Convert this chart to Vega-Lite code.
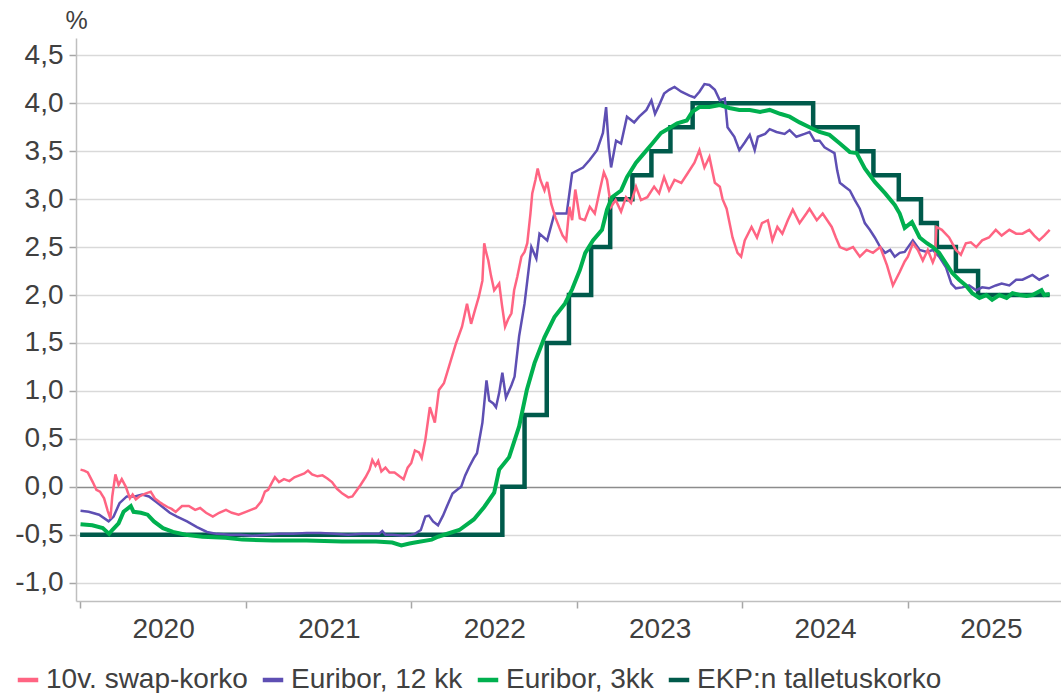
{
  "$schema": "https://vega.github.io/schema/vega-lite/v6.json",
  "width": 985,
  "height": 563,
  "autosize": {"type": "none"},
  "padding": {"left": 76, "top": 38, "right": 0, "bottom": 92},
  "background": "white",
  "datasets": {
    "rates": [
      {"d": "2020-01-02", "s": "10v. swap-korko", "v": 0.18},
      {"d": "2020-01-10", "s": "10v. swap-korko", "v": 0.17},
      {"d": "2020-01-18", "s": "10v. swap-korko", "v": 0.15},
      {"d": "2020-01-29", "s": "10v. swap-korko", "v": 0.05},
      {"d": "2020-02-06", "s": "10v. swap-korko", "v": -0.03},
      {"d": "2020-02-14", "s": "10v. swap-korko", "v": -0.05},
      {"d": "2020-02-23", "s": "10v. swap-korko", "v": -0.12},
      {"d": "2020-03-02", "s": "10v. swap-korko", "v": -0.25},
      {"d": "2020-03-08", "s": "10v. swap-korko", "v": -0.33},
      {"d": "2020-03-12", "s": "10v. swap-korko", "v": -0.1},
      {"d": "2020-03-19", "s": "10v. swap-korko", "v": 0.13},
      {"d": "2020-03-26", "s": "10v. swap-korko", "v": 0.02},
      {"d": "2020-04-02", "s": "10v. swap-korko", "v": 0.08},
      {"d": "2020-04-11", "s": "10v. swap-korko", "v": 0.0},
      {"d": "2020-04-20", "s": "10v. swap-korko", "v": -0.12},
      {"d": "2020-04-26", "s": "10v. swap-korko", "v": -0.08},
      {"d": "2020-05-03", "s": "10v. swap-korko", "v": -0.13},
      {"d": "2020-05-11", "s": "10v. swap-korko", "v": -0.1},
      {"d": "2020-05-24", "s": "10v. swap-korko", "v": -0.07},
      {"d": "2020-06-05", "s": "10v. swap-korko", "v": -0.05},
      {"d": "2020-06-14", "s": "10v. swap-korko", "v": -0.12},
      {"d": "2020-06-25", "s": "10v. swap-korko", "v": -0.16},
      {"d": "2020-07-01", "s": "10v. swap-korko", "v": -0.18},
      {"d": "2020-07-12", "s": "10v. swap-korko", "v": -0.21},
      {"d": "2020-07-21", "s": "10v. swap-korko", "v": -0.23},
      {"d": "2020-07-30", "s": "10v. swap-korko", "v": -0.26},
      {"d": "2020-08-13", "s": "10v. swap-korko", "v": -0.2},
      {"d": "2020-08-28", "s": "10v. swap-korko", "v": -0.2},
      {"d": "2020-09-11", "s": "10v. swap-korko", "v": -0.24},
      {"d": "2020-09-22", "s": "10v. swap-korko", "v": -0.22},
      {"d": "2020-10-05", "s": "10v. swap-korko", "v": -0.27},
      {"d": "2020-10-20", "s": "10v. swap-korko", "v": -0.31},
      {"d": "2020-11-03", "s": "10v. swap-korko", "v": -0.27},
      {"d": "2020-11-18", "s": "10v. swap-korko", "v": -0.24},
      {"d": "2020-12-01", "s": "10v. swap-korko", "v": -0.27},
      {"d": "2020-12-16", "s": "10v. swap-korko", "v": -0.29},
      {"d": "2021-01-01", "s": "10v. swap-korko", "v": -0.26},
      {"d": "2021-01-12", "s": "10v. swap-korko", "v": -0.24},
      {"d": "2021-01-23", "s": "10v. swap-korko", "v": -0.22},
      {"d": "2021-02-04", "s": "10v. swap-korko", "v": -0.15},
      {"d": "2021-02-12", "s": "10v. swap-korko", "v": -0.05},
      {"d": "2021-02-19", "s": "10v. swap-korko", "v": -0.03},
      {"d": "2021-02-28", "s": "10v. swap-korko", "v": 0.05},
      {"d": "2021-03-06", "s": "10v. swap-korko", "v": 0.1},
      {"d": "2021-03-15", "s": "10v. swap-korko", "v": 0.05},
      {"d": "2021-03-26", "s": "10v. swap-korko", "v": 0.08},
      {"d": "2021-04-07", "s": "10v. swap-korko", "v": 0.06},
      {"d": "2021-04-18", "s": "10v. swap-korko", "v": 0.1},
      {"d": "2021-04-29", "s": "10v. swap-korko", "v": 0.12},
      {"d": "2021-05-10", "s": "10v. swap-korko", "v": 0.14},
      {"d": "2021-05-18", "s": "10v. swap-korko", "v": 0.17},
      {"d": "2021-05-27", "s": "10v. swap-korko", "v": 0.13},
      {"d": "2021-06-08", "s": "10v. swap-korko", "v": 0.11},
      {"d": "2021-06-19", "s": "10v. swap-korko", "v": 0.12},
      {"d": "2021-06-29", "s": "10v. swap-korko", "v": 0.09},
      {"d": "2021-07-10", "s": "10v. swap-korko", "v": 0.05},
      {"d": "2021-07-21", "s": "10v. swap-korko", "v": -0.02},
      {"d": "2021-08-02", "s": "10v. swap-korko", "v": -0.07},
      {"d": "2021-08-15", "s": "10v. swap-korko", "v": -0.11},
      {"d": "2021-08-24", "s": "10v. swap-korko", "v": -0.1},
      {"d": "2021-09-02", "s": "10v. swap-korko", "v": -0.04},
      {"d": "2021-09-11", "s": "10v. swap-korko", "v": 0.02},
      {"d": "2021-09-22", "s": "10v. swap-korko", "v": 0.1},
      {"d": "2021-10-01", "s": "10v. swap-korko", "v": 0.18},
      {"d": "2021-10-07", "s": "10v. swap-korko", "v": 0.28},
      {"d": "2021-10-14", "s": "10v. swap-korko", "v": 0.22},
      {"d": "2021-10-20", "s": "10v. swap-korko", "v": 0.27},
      {"d": "2021-10-27", "s": "10v. swap-korko", "v": 0.16},
      {"d": "2021-11-05", "s": "10v. swap-korko", "v": 0.2},
      {"d": "2021-11-14", "s": "10v. swap-korko", "v": 0.15},
      {"d": "2021-11-25", "s": "10v. swap-korko", "v": 0.15},
      {"d": "2021-12-06", "s": "10v. swap-korko", "v": 0.11},
      {"d": "2021-12-15", "s": "10v. swap-korko", "v": 0.08},
      {"d": "2021-12-24", "s": "10v. swap-korko", "v": 0.2},
      {"d": "2022-01-01", "s": "10v. swap-korko", "v": 0.25},
      {"d": "2022-01-09", "s": "10v. swap-korko", "v": 0.38},
      {"d": "2022-01-18", "s": "10v. swap-korko", "v": 0.36},
      {"d": "2022-01-24", "s": "10v. swap-korko", "v": 0.3},
      {"d": "2022-02-01", "s": "10v. swap-korko", "v": 0.49},
      {"d": "2022-02-11", "s": "10v. swap-korko", "v": 0.83},
      {"d": "2022-02-22", "s": "10v. swap-korko", "v": 0.67},
      {"d": "2022-03-03", "s": "10v. swap-korko", "v": 1.01},
      {"d": "2022-03-14", "s": "10v. swap-korko", "v": 1.08},
      {"d": "2022-03-25", "s": "10v. swap-korko", "v": 1.25},
      {"d": "2022-04-10", "s": "10v. swap-korko", "v": 1.5},
      {"d": "2022-04-23", "s": "10v. swap-korko", "v": 1.67},
      {"d": "2022-05-04", "s": "10v. swap-korko", "v": 1.91},
      {"d": "2022-05-13", "s": "10v. swap-korko", "v": 1.7},
      {"d": "2022-05-22", "s": "10v. swap-korko", "v": 1.85},
      {"d": "2022-05-30", "s": "10v. swap-korko", "v": 1.98},
      {"d": "2022-06-07", "s": "10v. swap-korko", "v": 2.15},
      {"d": "2022-06-11", "s": "10v. swap-korko", "v": 2.54},
      {"d": "2022-06-15", "s": "10v. swap-korko", "v": 2.45},
      {"d": "2022-06-20", "s": "10v. swap-korko", "v": 2.36},
      {"d": "2022-06-26", "s": "10v. swap-korko", "v": 2.2},
      {"d": "2022-07-03", "s": "10v. swap-korko", "v": 2.05},
      {"d": "2022-07-14", "s": "10v. swap-korko", "v": 2.12},
      {"d": "2022-07-20", "s": "10v. swap-korko", "v": 1.9},
      {"d": "2022-07-27", "s": "10v. swap-korko", "v": 1.67},
      {"d": "2022-08-03", "s": "10v. swap-korko", "v": 1.75},
      {"d": "2022-08-10", "s": "10v. swap-korko", "v": 1.81},
      {"d": "2022-08-16", "s": "10v. swap-korko", "v": 2.05},
      {"d": "2022-08-23", "s": "10v. swap-korko", "v": 2.19},
      {"d": "2022-09-01", "s": "10v. swap-korko", "v": 2.4},
      {"d": "2022-09-08", "s": "10v. swap-korko", "v": 2.45},
      {"d": "2022-09-14", "s": "10v. swap-korko", "v": 2.54},
      {"d": "2022-09-21", "s": "10v. swap-korko", "v": 2.85},
      {"d": "2022-09-25", "s": "10v. swap-korko", "v": 3.06},
      {"d": "2022-10-02", "s": "10v. swap-korko", "v": 3.2},
      {"d": "2022-10-07", "s": "10v. swap-korko", "v": 3.32},
      {"d": "2022-10-13", "s": "10v. swap-korko", "v": 3.2},
      {"d": "2022-10-22", "s": "10v. swap-korko", "v": 3.09},
      {"d": "2022-10-28", "s": "10v. swap-korko", "v": 3.18},
      {"d": "2022-11-06", "s": "10v. swap-korko", "v": 2.95},
      {"d": "2022-11-15", "s": "10v. swap-korko", "v": 2.81},
      {"d": "2022-11-24", "s": "10v. swap-korko", "v": 2.7},
      {"d": "2022-12-01", "s": "10v. swap-korko", "v": 2.62},
      {"d": "2022-12-09", "s": "10v. swap-korko", "v": 2.57},
      {"d": "2022-12-16", "s": "10v. swap-korko", "v": 2.92},
      {"d": "2022-12-22", "s": "10v. swap-korko", "v": 2.78},
      {"d": "2022-12-29", "s": "10v. swap-korko", "v": 3.1},
      {"d": "2023-01-08", "s": "10v. swap-korko", "v": 2.8},
      {"d": "2023-01-19", "s": "10v. swap-korko", "v": 2.78},
      {"d": "2023-01-30", "s": "10v. swap-korko", "v": 2.92},
      {"d": "2023-02-10", "s": "10v. swap-korko", "v": 2.85},
      {"d": "2023-02-21", "s": "10v. swap-korko", "v": 3.09},
      {"d": "2023-03-02", "s": "10v. swap-korko", "v": 3.28},
      {"d": "2023-03-09", "s": "10v. swap-korko", "v": 3.2},
      {"d": "2023-03-18", "s": "10v. swap-korko", "v": 2.92},
      {"d": "2023-03-28", "s": "10v. swap-korko", "v": 2.99},
      {"d": "2023-04-09", "s": "10v. swap-korko", "v": 2.87},
      {"d": "2023-04-20", "s": "10v. swap-korko", "v": 3.02},
      {"d": "2023-05-01", "s": "10v. swap-korko", "v": 2.96},
      {"d": "2023-05-12", "s": "10v. swap-korko", "v": 3.13},
      {"d": "2023-05-23", "s": "10v. swap-korko", "v": 2.99},
      {"d": "2023-06-06", "s": "10v. swap-korko", "v": 3.02},
      {"d": "2023-06-21", "s": "10v. swap-korko", "v": 3.13},
      {"d": "2023-07-02", "s": "10v. swap-korko", "v": 3.06},
      {"d": "2023-07-13", "s": "10v. swap-korko", "v": 3.23},
      {"d": "2023-07-24", "s": "10v. swap-korko", "v": 3.09},
      {"d": "2023-08-05", "s": "10v. swap-korko", "v": 3.2},
      {"d": "2023-08-20", "s": "10v. swap-korko", "v": 3.17},
      {"d": "2023-09-03", "s": "10v. swap-korko", "v": 3.27},
      {"d": "2023-09-18", "s": "10v. swap-korko", "v": 3.38},
      {"d": "2023-09-29", "s": "10v. swap-korko", "v": 3.51},
      {"d": "2023-10-10", "s": "10v. swap-korko", "v": 3.33},
      {"d": "2023-10-21", "s": "10v. swap-korko", "v": 3.44},
      {"d": "2023-11-02", "s": "10v. swap-korko", "v": 3.17},
      {"d": "2023-11-13", "s": "10v. swap-korko", "v": 3.13},
      {"d": "2023-11-19", "s": "10v. swap-korko", "v": 3.0},
      {"d": "2023-11-28", "s": "10v. swap-korko", "v": 2.9},
      {"d": "2023-12-11", "s": "10v. swap-korko", "v": 2.6},
      {"d": "2023-12-22", "s": "10v. swap-korko", "v": 2.44},
      {"d": "2023-12-30", "s": "10v. swap-korko", "v": 2.4},
      {"d": "2024-01-07", "s": "10v. swap-korko", "v": 2.57},
      {"d": "2024-01-22", "s": "10v. swap-korko", "v": 2.71},
      {"d": "2024-02-03", "s": "10v. swap-korko", "v": 2.6},
      {"d": "2024-02-14", "s": "10v. swap-korko", "v": 2.75},
      {"d": "2024-02-27", "s": "10v. swap-korko", "v": 2.78},
      {"d": "2024-03-08", "s": "10v. swap-korko", "v": 2.57},
      {"d": "2024-03-19", "s": "10v. swap-korko", "v": 2.71},
      {"d": "2024-03-30", "s": "10v. swap-korko", "v": 2.64},
      {"d": "2024-04-11", "s": "10v. swap-korko", "v": 2.78},
      {"d": "2024-04-22", "s": "10v. swap-korko", "v": 2.89},
      {"d": "2024-05-07", "s": "10v. swap-korko", "v": 2.75},
      {"d": "2024-05-22", "s": "10v. swap-korko", "v": 2.85},
      {"d": "2024-05-29", "s": "10v. swap-korko", "v": 2.9},
      {"d": "2024-06-14", "s": "10v. swap-korko", "v": 2.78},
      {"d": "2024-06-27", "s": "10v. swap-korko", "v": 2.85},
      {"d": "2024-07-17", "s": "10v. swap-korko", "v": 2.71},
      {"d": "2024-07-26", "s": "10v. swap-korko", "v": 2.6},
      {"d": "2024-08-04", "s": "10v. swap-korko", "v": 2.5},
      {"d": "2024-08-19", "s": "10v. swap-korko", "v": 2.47},
      {"d": "2024-09-02", "s": "10v. swap-korko", "v": 2.5},
      {"d": "2024-09-17", "s": "10v. swap-korko", "v": 2.4},
      {"d": "2024-10-02", "s": "10v. swap-korko", "v": 2.47},
      {"d": "2024-10-16", "s": "10v. swap-korko", "v": 2.44},
      {"d": "2024-11-01", "s": "10v. swap-korko", "v": 2.5},
      {"d": "2024-11-16", "s": "10v. swap-korko", "v": 2.31},
      {"d": "2024-11-29", "s": "10v. swap-korko", "v": 2.1},
      {"d": "2024-12-14", "s": "10v. swap-korko", "v": 2.24},
      {"d": "2024-12-25", "s": "10v. swap-korko", "v": 2.35},
      {"d": "2025-01-01", "s": "10v. swap-korko", "v": 2.4},
      {"d": "2025-01-12", "s": "10v. swap-korko", "v": 2.54},
      {"d": "2025-01-23", "s": "10v. swap-korko", "v": 2.47},
      {"d": "2025-02-03", "s": "10v. swap-korko", "v": 2.36},
      {"d": "2025-02-14", "s": "10v. swap-korko", "v": 2.47},
      {"d": "2025-02-25", "s": "10v. swap-korko", "v": 2.34},
      {"d": "2025-03-02", "s": "10v. swap-korko", "v": 2.4},
      {"d": "2025-03-05", "s": "10v. swap-korko", "v": 2.71},
      {"d": "2025-03-17", "s": "10v. swap-korko", "v": 2.68},
      {"d": "2025-04-02", "s": "10v. swap-korko", "v": 2.6},
      {"d": "2025-04-17", "s": "10v. swap-korko", "v": 2.47},
      {"d": "2025-04-28", "s": "10v. swap-korko", "v": 2.42},
      {"d": "2025-05-09", "s": "10v. swap-korko", "v": 2.54},
      {"d": "2025-05-20", "s": "10v. swap-korko", "v": 2.55},
      {"d": "2025-06-01", "s": "10v. swap-korko", "v": 2.5},
      {"d": "2025-06-14", "s": "10v. swap-korko", "v": 2.57},
      {"d": "2025-06-29", "s": "10v. swap-korko", "v": 2.6},
      {"d": "2025-07-14", "s": "10v. swap-korko", "v": 2.68},
      {"d": "2025-07-27", "s": "10v. swap-korko", "v": 2.62},
      {"d": "2025-08-13", "s": "10v. swap-korko", "v": 2.68},
      {"d": "2025-08-28", "s": "10v. swap-korko", "v": 2.64},
      {"d": "2025-09-11", "s": "10v. swap-korko", "v": 2.64},
      {"d": "2025-09-26", "s": "10v. swap-korko", "v": 2.68},
      {"d": "2025-10-07", "s": "10v. swap-korko", "v": 2.62},
      {"d": "2025-10-18", "s": "10v. swap-korko", "v": 2.57},
      {"d": "2025-10-29", "s": "10v. swap-korko", "v": 2.62},
      {"d": "2025-11-10", "s": "10v. swap-korko", "v": 2.68},

      {"d": "2020-01-02", "s": "Euribor, 12 kk", "v": -0.25},
      {"d": "2020-01-20", "s": "Euribor, 12 kk", "v": -0.26},
      {"d": "2020-02-12", "s": "Euribor, 12 kk", "v": -0.29},
      {"d": "2020-03-04", "s": "Euribor, 12 kk", "v": -0.36},
      {"d": "2020-03-15", "s": "Euribor, 12 kk", "v": -0.31},
      {"d": "2020-03-28", "s": "Euribor, 12 kk", "v": -0.17},
      {"d": "2020-04-13", "s": "Euribor, 12 kk", "v": -0.1},
      {"d": "2020-05-01", "s": "Euribor, 12 kk", "v": -0.1},
      {"d": "2020-05-17", "s": "Euribor, 12 kk", "v": -0.08},
      {"d": "2020-06-01", "s": "Euribor, 12 kk", "v": -0.1},
      {"d": "2020-06-18", "s": "Euribor, 12 kk", "v": -0.16},
      {"d": "2020-07-04", "s": "Euribor, 12 kk", "v": -0.22},
      {"d": "2020-07-17", "s": "Euribor, 12 kk", "v": -0.27},
      {"d": "2020-08-02", "s": "Euribor, 12 kk", "v": -0.31},
      {"d": "2020-08-24", "s": "Euribor, 12 kk", "v": -0.36},
      {"d": "2020-09-15", "s": "Euribor, 12 kk", "v": -0.42},
      {"d": "2020-10-07", "s": "Euribor, 12 kk", "v": -0.47},
      {"d": "2020-10-29", "s": "Euribor, 12 kk", "v": -0.49},
      {"d": "2020-11-27", "s": "Euribor, 12 kk", "v": -0.5},
      {"d": "2020-12-20", "s": "Euribor, 12 kk", "v": -0.5},
      {"d": "2021-01-15", "s": "Euribor, 12 kk", "v": -0.51},
      {"d": "2021-02-15", "s": "Euribor, 12 kk", "v": -0.5},
      {"d": "2021-03-15", "s": "Euribor, 12 kk", "v": -0.49},
      {"d": "2021-04-15", "s": "Euribor, 12 kk", "v": -0.49},
      {"d": "2021-05-15", "s": "Euribor, 12 kk", "v": -0.48},
      {"d": "2021-06-15", "s": "Euribor, 12 kk", "v": -0.48},
      {"d": "2021-07-15", "s": "Euribor, 12 kk", "v": -0.49},
      {"d": "2021-08-15", "s": "Euribor, 12 kk", "v": -0.5},
      {"d": "2021-09-15", "s": "Euribor, 12 kk", "v": -0.49},
      {"d": "2021-10-22", "s": "Euribor, 12 kk", "v": -0.49},
      {"d": "2021-10-29", "s": "Euribor, 12 kk", "v": -0.46},
      {"d": "2021-11-05", "s": "Euribor, 12 kk", "v": -0.5},
      {"d": "2021-11-20", "s": "Euribor, 12 kk", "v": -0.5},
      {"d": "2021-12-15", "s": "Euribor, 12 kk", "v": -0.51},
      {"d": "2022-01-01", "s": "Euribor, 12 kk", "v": -0.5},
      {"d": "2022-01-09", "s": "Euribor, 12 kk", "v": -0.49},
      {"d": "2022-01-22", "s": "Euribor, 12 kk", "v": -0.45},
      {"d": "2022-02-01", "s": "Euribor, 12 kk", "v": -0.31},
      {"d": "2022-02-09", "s": "Euribor, 12 kk", "v": -0.3},
      {"d": "2022-02-18", "s": "Euribor, 12 kk", "v": -0.36},
      {"d": "2022-03-01", "s": "Euribor, 12 kk", "v": -0.4},
      {"d": "2022-03-12", "s": "Euribor, 12 kk", "v": -0.3},
      {"d": "2022-03-21", "s": "Euribor, 12 kk", "v": -0.2},
      {"d": "2022-04-02", "s": "Euribor, 12 kk", "v": -0.07},
      {"d": "2022-04-15", "s": "Euribor, 12 kk", "v": -0.02},
      {"d": "2022-04-21", "s": "Euribor, 12 kk", "v": 0.0},
      {"d": "2022-04-30", "s": "Euribor, 12 kk", "v": 0.12},
      {"d": "2022-05-09", "s": "Euribor, 12 kk", "v": 0.21},
      {"d": "2022-05-19", "s": "Euribor, 12 kk", "v": 0.3},
      {"d": "2022-05-26", "s": "Euribor, 12 kk", "v": 0.35},
      {"d": "2022-06-07", "s": "Euribor, 12 kk", "v": 0.67},
      {"d": "2022-06-16", "s": "Euribor, 12 kk", "v": 1.11},
      {"d": "2022-06-22", "s": "Euribor, 12 kk", "v": 0.9},
      {"d": "2022-07-01", "s": "Euribor, 12 kk", "v": 0.87},
      {"d": "2022-07-07", "s": "Euribor, 12 kk", "v": 0.83},
      {"d": "2022-07-14", "s": "Euribor, 12 kk", "v": 0.98},
      {"d": "2022-07-21", "s": "Euribor, 12 kk", "v": 1.19},
      {"d": "2022-07-29", "s": "Euribor, 12 kk", "v": 0.93},
      {"d": "2022-08-10", "s": "Euribor, 12 kk", "v": 1.06},
      {"d": "2022-08-17", "s": "Euribor, 12 kk", "v": 1.15},
      {"d": "2022-08-27", "s": "Euribor, 12 kk", "v": 1.57},
      {"d": "2022-09-08", "s": "Euribor, 12 kk", "v": 1.91},
      {"d": "2022-09-23", "s": "Euribor, 12 kk", "v": 2.5},
      {"d": "2022-10-04", "s": "Euribor, 12 kk", "v": 2.38},
      {"d": "2022-10-11", "s": "Euribor, 12 kk", "v": 2.64},
      {"d": "2022-10-28", "s": "Euribor, 12 kk", "v": 2.57},
      {"d": "2022-11-13", "s": "Euribor, 12 kk", "v": 2.85},
      {"d": "2022-12-10", "s": "Euribor, 12 kk", "v": 2.85},
      {"d": "2022-12-22", "s": "Euribor, 12 kk", "v": 3.27},
      {"d": "2023-01-15", "s": "Euribor, 12 kk", "v": 3.33},
      {"d": "2023-01-30", "s": "Euribor, 12 kk", "v": 3.41},
      {"d": "2023-02-15", "s": "Euribor, 12 kk", "v": 3.51},
      {"d": "2023-02-28", "s": "Euribor, 12 kk", "v": 3.69},
      {"d": "2023-03-07", "s": "Euribor, 12 kk", "v": 3.96},
      {"d": "2023-03-13", "s": "Euribor, 12 kk", "v": 3.54},
      {"d": "2023-03-18", "s": "Euribor, 12 kk", "v": 3.33},
      {"d": "2023-03-29", "s": "Euribor, 12 kk", "v": 3.61},
      {"d": "2023-04-09", "s": "Euribor, 12 kk", "v": 3.58},
      {"d": "2023-04-22", "s": "Euribor, 12 kk", "v": 3.86},
      {"d": "2023-05-08", "s": "Euribor, 12 kk", "v": 3.8},
      {"d": "2023-05-19", "s": "Euribor, 12 kk", "v": 3.86},
      {"d": "2023-06-04", "s": "Euribor, 12 kk", "v": 3.93},
      {"d": "2023-06-15", "s": "Euribor, 12 kk", "v": 4.03},
      {"d": "2023-06-23", "s": "Euribor, 12 kk", "v": 3.89},
      {"d": "2023-07-02", "s": "Euribor, 12 kk", "v": 3.98},
      {"d": "2023-07-13", "s": "Euribor, 12 kk", "v": 4.1},
      {"d": "2023-07-24", "s": "Euribor, 12 kk", "v": 4.14},
      {"d": "2023-08-05", "s": "Euribor, 12 kk", "v": 4.17},
      {"d": "2023-08-20", "s": "Euribor, 12 kk", "v": 4.12},
      {"d": "2023-09-07", "s": "Euribor, 12 kk", "v": 4.08},
      {"d": "2023-09-18", "s": "Euribor, 12 kk", "v": 4.06},
      {"d": "2023-09-29", "s": "Euribor, 12 kk", "v": 4.12},
      {"d": "2023-10-10", "s": "Euribor, 12 kk", "v": 4.2},
      {"d": "2023-10-21", "s": "Euribor, 12 kk", "v": 4.19},
      {"d": "2023-11-02", "s": "Euribor, 12 kk", "v": 4.14},
      {"d": "2023-11-13", "s": "Euribor, 12 kk", "v": 4.03},
      {"d": "2023-11-24", "s": "Euribor, 12 kk", "v": 4.05},
      {"d": "2023-11-30", "s": "Euribor, 12 kk", "v": 3.75},
      {"d": "2023-12-15", "s": "Euribor, 12 kk", "v": 3.65},
      {"d": "2023-12-26", "s": "Euribor, 12 kk", "v": 3.51},
      {"d": "2024-01-07", "s": "Euribor, 12 kk", "v": 3.59},
      {"d": "2024-01-18", "s": "Euribor, 12 kk", "v": 3.67},
      {"d": "2024-01-29", "s": "Euribor, 12 kk", "v": 3.51},
      {"d": "2024-02-05", "s": "Euribor, 12 kk", "v": 3.65},
      {"d": "2024-02-21", "s": "Euribor, 12 kk", "v": 3.68},
      {"d": "2024-03-02", "s": "Euribor, 12 kk", "v": 3.73},
      {"d": "2024-03-17", "s": "Euribor, 12 kk", "v": 3.7},
      {"d": "2024-04-04", "s": "Euribor, 12 kk", "v": 3.68},
      {"d": "2024-04-15", "s": "Euribor, 12 kk", "v": 3.72},
      {"d": "2024-04-30", "s": "Euribor, 12 kk", "v": 3.65},
      {"d": "2024-05-18", "s": "Euribor, 12 kk", "v": 3.68},
      {"d": "2024-05-29", "s": "Euribor, 12 kk", "v": 3.7},
      {"d": "2024-06-09", "s": "Euribor, 12 kk", "v": 3.61},
      {"d": "2024-06-20", "s": "Euribor, 12 kk", "v": 3.61},
      {"d": "2024-07-01", "s": "Euribor, 12 kk", "v": 3.54},
      {"d": "2024-07-12", "s": "Euribor, 12 kk", "v": 3.51},
      {"d": "2024-07-23", "s": "Euribor, 12 kk", "v": 3.48},
      {"d": "2024-07-29", "s": "Euribor, 12 kk", "v": 3.3},
      {"d": "2024-08-04", "s": "Euribor, 12 kk", "v": 3.17},
      {"d": "2024-08-15", "s": "Euribor, 12 kk", "v": 3.13},
      {"d": "2024-08-26", "s": "Euribor, 12 kk", "v": 3.09},
      {"d": "2024-09-06", "s": "Euribor, 12 kk", "v": 2.99},
      {"d": "2024-09-17", "s": "Euribor, 12 kk", "v": 2.9},
      {"d": "2024-09-28", "s": "Euribor, 12 kk", "v": 2.75},
      {"d": "2024-10-09", "s": "Euribor, 12 kk", "v": 2.68},
      {"d": "2024-10-20", "s": "Euribor, 12 kk", "v": 2.6},
      {"d": "2024-11-01", "s": "Euribor, 12 kk", "v": 2.5},
      {"d": "2024-11-12", "s": "Euribor, 12 kk", "v": 2.44},
      {"d": "2024-11-23", "s": "Euribor, 12 kk", "v": 2.47},
      {"d": "2024-12-03", "s": "Euribor, 12 kk", "v": 2.4},
      {"d": "2024-12-14", "s": "Euribor, 12 kk", "v": 2.44},
      {"d": "2024-12-25", "s": "Euribor, 12 kk", "v": 2.45},
      {"d": "2025-01-12", "s": "Euribor, 12 kk", "v": 2.57},
      {"d": "2025-01-27", "s": "Euribor, 12 kk", "v": 2.47},
      {"d": "2025-02-12", "s": "Euribor, 12 kk", "v": 2.45},
      {"d": "2025-02-25", "s": "Euribor, 12 kk", "v": 2.47},
      {"d": "2025-03-11", "s": "Euribor, 12 kk", "v": 2.4},
      {"d": "2025-03-26", "s": "Euribor, 12 kk", "v": 2.29},
      {"d": "2025-04-07", "s": "Euribor, 12 kk", "v": 2.12},
      {"d": "2025-04-17", "s": "Euribor, 12 kk", "v": 2.07},
      {"d": "2025-05-01", "s": "Euribor, 12 kk", "v": 2.08},
      {"d": "2025-05-16", "s": "Euribor, 12 kk", "v": 2.1},
      {"d": "2025-06-01", "s": "Euribor, 12 kk", "v": 2.05},
      {"d": "2025-06-14", "s": "Euribor, 12 kk", "v": 2.08},
      {"d": "2025-06-29", "s": "Euribor, 12 kk", "v": 2.07},
      {"d": "2025-07-14", "s": "Euribor, 12 kk", "v": 2.1},
      {"d": "2025-07-27", "s": "Euribor, 12 kk", "v": 2.12},
      {"d": "2025-08-13", "s": "Euribor, 12 kk", "v": 2.1},
      {"d": "2025-08-28", "s": "Euribor, 12 kk", "v": 2.16},
      {"d": "2025-09-11", "s": "Euribor, 12 kk", "v": 2.16},
      {"d": "2025-10-03", "s": "Euribor, 12 kk", "v": 2.21},
      {"d": "2025-10-18", "s": "Euribor, 12 kk", "v": 2.16},
      {"d": "2025-11-08", "s": "Euribor, 12 kk", "v": 2.21},

      {"d": "2020-01-02", "s": "Euribor, 3kk", "v": -0.39},
      {"d": "2020-01-28", "s": "Euribor, 3kk", "v": -0.4},
      {"d": "2020-02-20", "s": "Euribor, 3kk", "v": -0.43},
      {"d": "2020-03-05", "s": "Euribor, 3kk", "v": -0.49},
      {"d": "2020-03-12", "s": "Euribor, 3kk", "v": -0.45},
      {"d": "2020-03-26", "s": "Euribor, 3kk", "v": -0.38},
      {"d": "2020-04-06", "s": "Euribor, 3kk", "v": -0.26},
      {"d": "2020-04-22", "s": "Euribor, 3kk", "v": -0.2},
      {"d": "2020-04-28", "s": "Euribor, 3kk", "v": -0.26},
      {"d": "2020-05-14", "s": "Euribor, 3kk", "v": -0.27},
      {"d": "2020-05-29", "s": "Euribor, 3kk", "v": -0.29},
      {"d": "2020-06-12", "s": "Euribor, 3kk", "v": -0.36},
      {"d": "2020-07-02", "s": "Euribor, 3kk", "v": -0.43},
      {"d": "2020-07-24", "s": "Euribor, 3kk", "v": -0.47},
      {"d": "2020-08-21", "s": "Euribor, 3kk", "v": -0.5},
      {"d": "2020-09-27", "s": "Euribor, 3kk", "v": -0.52},
      {"d": "2020-11-17", "s": "Euribor, 3kk", "v": -0.53},
      {"d": "2020-12-24", "s": "Euribor, 3kk", "v": -0.55},
      {"d": "2021-03-01", "s": "Euribor, 3kk", "v": -0.56},
      {"d": "2021-05-15", "s": "Euribor, 3kk", "v": -0.56},
      {"d": "2021-08-01", "s": "Euribor, 3kk", "v": -0.57},
      {"d": "2021-10-15", "s": "Euribor, 3kk", "v": -0.57},
      {"d": "2021-11-20", "s": "Euribor, 3kk", "v": -0.58},
      {"d": "2021-12-10", "s": "Euribor, 3kk", "v": -0.61},
      {"d": "2021-12-28", "s": "Euribor, 3kk", "v": -0.59},
      {"d": "2022-01-09", "s": "Euribor, 3kk", "v": -0.58},
      {"d": "2022-02-15", "s": "Euribor, 3kk", "v": -0.55},
      {"d": "2022-03-01", "s": "Euribor, 3kk", "v": -0.52},
      {"d": "2022-04-17", "s": "Euribor, 3kk", "v": -0.45},
      {"d": "2022-05-19", "s": "Euribor, 3kk", "v": -0.34},
      {"d": "2022-06-11", "s": "Euribor, 3kk", "v": -0.21},
      {"d": "2022-07-03", "s": "Euribor, 3kk", "v": -0.06},
      {"d": "2022-07-14", "s": "Euribor, 3kk", "v": 0.18},
      {"d": "2022-08-05", "s": "Euribor, 3kk", "v": 0.31},
      {"d": "2022-08-27", "s": "Euribor, 3kk", "v": 0.63},
      {"d": "2022-09-13", "s": "Euribor, 3kk", "v": 1.01},
      {"d": "2022-09-30", "s": "Euribor, 3kk", "v": 1.29},
      {"d": "2022-10-22", "s": "Euribor, 3kk", "v": 1.56},
      {"d": "2022-11-13", "s": "Euribor, 3kk", "v": 1.77},
      {"d": "2022-12-06", "s": "Euribor, 3kk", "v": 1.91},
      {"d": "2022-12-22", "s": "Euribor, 3kk", "v": 2.06},
      {"d": "2023-01-08", "s": "Euribor, 3kk", "v": 2.26},
      {"d": "2023-01-20", "s": "Euribor, 3kk", "v": 2.44},
      {"d": "2023-02-06", "s": "Euribor, 3kk", "v": 2.57},
      {"d": "2023-02-26", "s": "Euribor, 3kk", "v": 2.68},
      {"d": "2023-03-09", "s": "Euribor, 3kk", "v": 2.89},
      {"d": "2023-03-20", "s": "Euribor, 3kk", "v": 3.02},
      {"d": "2023-04-09", "s": "Euribor, 3kk", "v": 3.09},
      {"d": "2023-04-22", "s": "Euribor, 3kk", "v": 3.23},
      {"d": "2023-05-12", "s": "Euribor, 3kk", "v": 3.38},
      {"d": "2023-05-30", "s": "Euribor, 3kk", "v": 3.48},
      {"d": "2023-06-17", "s": "Euribor, 3kk", "v": 3.58},
      {"d": "2023-07-06", "s": "Euribor, 3kk", "v": 3.69},
      {"d": "2023-07-24", "s": "Euribor, 3kk", "v": 3.74},
      {"d": "2023-08-11", "s": "Euribor, 3kk", "v": 3.79},
      {"d": "2023-09-01", "s": "Euribor, 3kk", "v": 3.82},
      {"d": "2023-09-13", "s": "Euribor, 3kk", "v": 3.91},
      {"d": "2023-09-29", "s": "Euribor, 3kk", "v": 3.96},
      {"d": "2023-10-21", "s": "Euribor, 3kk", "v": 3.96},
      {"d": "2023-11-13", "s": "Euribor, 3kk", "v": 3.98},
      {"d": "2023-12-04", "s": "Euribor, 3kk", "v": 3.95},
      {"d": "2023-12-26", "s": "Euribor, 3kk", "v": 3.93},
      {"d": "2024-01-18", "s": "Euribor, 3kk", "v": 3.93},
      {"d": "2024-02-10", "s": "Euribor, 3kk", "v": 3.91},
      {"d": "2024-03-02", "s": "Euribor, 3kk", "v": 3.93},
      {"d": "2024-03-25", "s": "Euribor, 3kk", "v": 3.89},
      {"d": "2024-04-15", "s": "Euribor, 3kk", "v": 3.86},
      {"d": "2024-05-07", "s": "Euribor, 3kk", "v": 3.8},
      {"d": "2024-05-29", "s": "Euribor, 3kk", "v": 3.75},
      {"d": "2024-06-20", "s": "Euribor, 3kk", "v": 3.7},
      {"d": "2024-07-12", "s": "Euribor, 3kk", "v": 3.67},
      {"d": "2024-08-04", "s": "Euribor, 3kk", "v": 3.58},
      {"d": "2024-08-26", "s": "Euribor, 3kk", "v": 3.49},
      {"d": "2024-09-10", "s": "Euribor, 3kk", "v": 3.48},
      {"d": "2024-09-28", "s": "Euribor, 3kk", "v": 3.32},
      {"d": "2024-10-20", "s": "Euribor, 3kk", "v": 3.18},
      {"d": "2024-11-12", "s": "Euribor, 3kk", "v": 3.06},
      {"d": "2024-12-03", "s": "Euribor, 3kk", "v": 2.94},
      {"d": "2024-12-14", "s": "Euribor, 3kk", "v": 2.85},
      {"d": "2024-12-25", "s": "Euribor, 3kk", "v": 2.7},
      {"d": "2025-01-10", "s": "Euribor, 3kk", "v": 2.76},
      {"d": "2025-01-27", "s": "Euribor, 3kk", "v": 2.6},
      {"d": "2025-02-12", "s": "Euribor, 3kk", "v": 2.54},
      {"d": "2025-02-25", "s": "Euribor, 3kk", "v": 2.5},
      {"d": "2025-03-11", "s": "Euribor, 3kk", "v": 2.44},
      {"d": "2025-03-26", "s": "Euribor, 3kk", "v": 2.33},
      {"d": "2025-04-09", "s": "Euribor, 3kk", "v": 2.23},
      {"d": "2025-04-24", "s": "Euribor, 3kk", "v": 2.16},
      {"d": "2025-05-09", "s": "Euribor, 3kk", "v": 2.1},
      {"d": "2025-05-23", "s": "Euribor, 3kk", "v": 2.02},
      {"d": "2025-06-08", "s": "Euribor, 3kk", "v": 1.97},
      {"d": "2025-06-23", "s": "Euribor, 3kk", "v": 2.0},
      {"d": "2025-07-06", "s": "Euribor, 3kk", "v": 1.95},
      {"d": "2025-07-22", "s": "Euribor, 3kk", "v": 2.0},
      {"d": "2025-08-07", "s": "Euribor, 3kk", "v": 1.97},
      {"d": "2025-08-20", "s": "Euribor, 3kk", "v": 2.02},
      {"d": "2025-09-05", "s": "Euribor, 3kk", "v": 2.0},
      {"d": "2025-09-20", "s": "Euribor, 3kk", "v": 1.99},
      {"d": "2025-10-03", "s": "Euribor, 3kk", "v": 2.0},
      {"d": "2025-10-23", "s": "Euribor, 3kk", "v": 2.05},
      {"d": "2025-10-29", "s": "Euribor, 3kk", "v": 2.0},
      {"d": "2025-11-10", "s": "Euribor, 3kk", "v": 2.01},

      {"d": "2020-01-01", "s": "EKP:n talletuskorko", "v": -0.5},
      {"d": "2022-07-21", "s": "EKP:n talletuskorko", "v": 0.0},
      {"d": "2022-09-08", "s": "EKP:n talletuskorko", "v": 0.75},
      {"d": "2022-10-27", "s": "EKP:n talletuskorko", "v": 1.5},
      {"d": "2022-12-15", "s": "EKP:n talletuskorko", "v": 2.0},
      {"d": "2023-02-02", "s": "EKP:n talletuskorko", "v": 2.5},
      {"d": "2023-03-16", "s": "EKP:n talletuskorko", "v": 3.0},
      {"d": "2023-05-04", "s": "EKP:n talletuskorko", "v": 3.25},
      {"d": "2023-06-15", "s": "EKP:n talletuskorko", "v": 3.5},
      {"d": "2023-07-27", "s": "EKP:n talletuskorko", "v": 3.75},
      {"d": "2023-09-14", "s": "EKP:n talletuskorko", "v": 4.0},
      {"d": "2024-06-06", "s": "EKP:n talletuskorko", "v": 3.75},
      {"d": "2024-09-12", "s": "EKP:n talletuskorko", "v": 3.5},
      {"d": "2024-10-17", "s": "EKP:n talletuskorko", "v": 3.25},
      {"d": "2024-12-12", "s": "EKP:n talletuskorko", "v": 3.0},
      {"d": "2025-01-30", "s": "EKP:n talletuskorko", "v": 2.75},
      {"d": "2025-03-06", "s": "EKP:n talletuskorko", "v": 2.5},
      {"d": "2025-04-17", "s": "EKP:n talletuskorko", "v": 2.25},
      {"d": "2025-06-05", "s": "EKP:n talletuskorko", "v": 2.0},
      {"d": "2025-11-10", "s": "EKP:n talletuskorko", "v": 2.0}
    ]
  },
  "data": {"name": "rates"},
  "encoding": {
    "x": {
      "field": "d",
      "type": "temporal",
      "scale": {
        "type": "utc",
        "domain": [
          {"year": 2019, "month": 12, "date": 23, "utc": true},
          {"year": 2025, "month": 12, "date": 5, "utc": true}
        ]
      },
      "axis": {
        "values": [
          {"year": 2020, "month": 1, "date": 1, "utc": true},
          {"year": 2021, "month": 1, "date": 1, "utc": true},
          {"year": 2022, "month": 1, "date": 1, "utc": true},
          {"year": 2023, "month": 1, "date": 1, "utc": true},
          {"year": 2024, "month": 1, "date": 1, "utc": true},
          {"year": 2025, "month": 1, "date": 1, "utc": true}
        ],
        "format": "%Y",
        "formatType": "utc",
        "labelOffset": 83,
        "labelFlush": false,
        "labelOverlap": false,
        "grid": false,
        "title": null,
        "tickSize": 7,
        "tickColor": "#a6a6a6",
        "tickWidth": 1.5,
        "domainColor": "#bfbfbf",
        "domainWidth": 1.5,
        "labelPadding": 7,
        "labelFontSize": 28,
        "labelFont": "Liberation Sans",
        "labelColor": "#404040"
      }
    },
    "y": {
      "field": "v",
      "type": "quantitative",
      "scale": {"domain": [-1.19, 4.68], "nice": false, "zero": false},
      "axis": {
        "values": [-1, -0.5, 0, 0.5, 1, 1.5, 2, 2.5, 3, 3.5, 4, 4.5],
        "format": ".1f",
        "title": "%",
        "titleAngle": 0,
        "titleX": 0,
        "titleY": -10,
        "titleAlign": "center",
        "titleBaseline": "alphabetic",
        "titleFont": "Liberation Sans",
        "titleFontSize": 25,
        "titleFontWeight": "normal",
        "titleColor": "#404040",
        "labelFont": "Liberation Sans",
        "labelFontSize": 28,
        "labelColor": "#404040",
        "labelPadding": 6,
        "labelOverlap": false,
        "tickSize": 7,
        "tickColor": "#a6a6a6",
        "tickWidth": 1.5,
        "domainColor": "#bfbfbf",
        "domainWidth": 1.5,
        "grid": true,
        "gridWidth": 1.5,
        "gridColor": {"condition": {"test": "datum.value === 0", "value": "#8c8c8c"}, "value": "#d9d9d9"}
      }
    },
    "color": {
      "field": "s",
      "type": "nominal",
      "scale": {
        "domain": ["10v. swap-korko", "Euribor, 12 kk", "Euribor, 3kk", "EKP:n talletuskorko"],
        "range": ["#ff6482", "#5e4fb3", "#00b04f", "#005a4b"]
      },
      "legend": {
        "title": null,
        "orient": "none",
        "legendX": -62,
        "legendY": 628,
        "direction": "horizontal",
        "symbolType": "stroke",
        "symbolSize": 420,
        "symbolStrokeWidth": 4.5,
        "labelFont": "Liberation Sans",
        "labelFontSize": 28,
        "labelColor": "#404040",
        "labelOffset": 4,
        "columnPadding": 5,
        "labelLimit": 0
      }
    }
  },
  "layer": [
    {
      "transform": [{"filter": "datum.s === 'EKP:n talletuskorko'"}],
      "mark": {"type": "line", "interpolate": "step-after", "strokeWidth": 4.5, "strokeJoin": "miter"}
    },
    {
      "transform": [{"filter": "datum.s === 'Euribor, 12 kk'"}],
      "mark": {"type": "line", "strokeWidth": 2.5}
    },
    {
      "transform": [{"filter": "datum.s === '10v. swap-korko'"}],
      "mark": {"type": "line", "strokeWidth": 2.5}
    },
    {
      "transform": [{"filter": "datum.s === 'Euribor, 3kk'"}],
      "mark": {"type": "line", "strokeWidth": 4}
    }
  ],
  "config": {
    "view": {"stroke": null},
    "font": "Liberation Sans",
    "locale": {
      "number": {"decimal": ",", "thousands": "\u00a0", "grouping": [3], "currency": ["", "\u00a0€"], "minus": "-"}
    }
  }
}
